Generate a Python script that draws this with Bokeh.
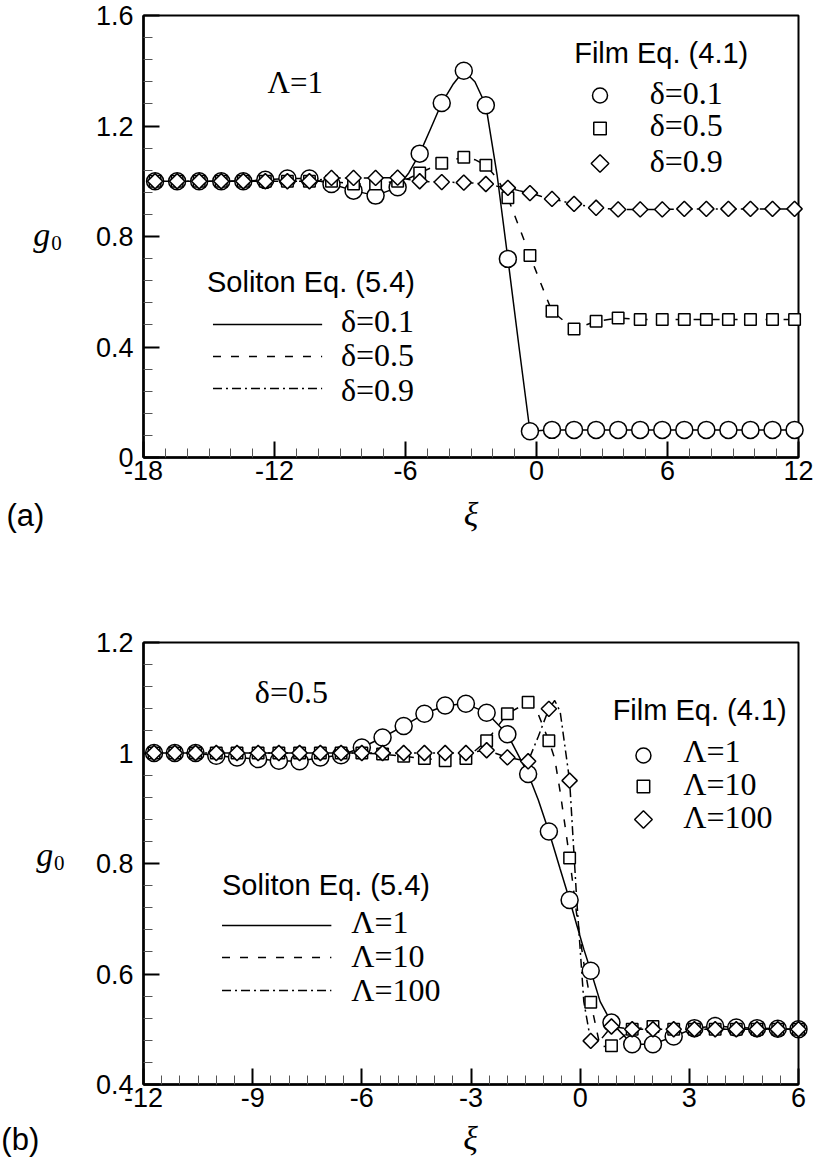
import numpy as np
from bokeh.plotting import figure
from bokeh.models import Range1d, FixedTicker, CustomJSTickFormatter
from bokeh.core.properties import value
from bokeh.layouts import column
from bokeh.embed import file_html
from bokeh.resources import INLINE

# ---------------- panel (a): Lambda = 1 ----------------
XI_A = [-17.47, -16.46, -15.45, -14.44, -13.43, -12.42, -11.41, -10.40, -9.39, -8.38,
        -7.37, -6.36, -5.35, -4.34, -3.33, -2.32, -1.31, -0.30, 0.71, 1.72,
        2.73, 3.74, 4.75, 5.76, 6.77, 7.78, 8.79, 9.80, 10.81, 11.82]
FILM_A_D01 = [1.0, 1.0, 1.0, 1.0, 1.0, 1.005, 1.01, 1.01, 0.99, 0.966,
              0.948, 0.978, 1.10, 1.283, 1.40, 1.275, 0.719, 0.095, 0.1, 0.1,
              0.1, 0.1, 0.1, 0.1, 0.1, 0.1, 0.1, 0.1, 0.1, 0.1]
FILM_A_D05 = [1.0, 1.0, 1.0, 1.0, 1.0, 1.0, 1.0, 1.0, 1.0, 0.99,
              0.99, 1.0, 1.03, 1.065, 1.087, 1.058, 0.94, 0.731, 0.529, 0.465,
              0.493, 0.505, 0.5, 0.5, 0.5, 0.5, 0.5, 0.5, 0.5, 0.5]
FILM_A_D09 = [1.0, 1.0, 1.0, 1.0, 1.0, 1.0, 1.0, 1.0, 1.012, 1.012,
              1.012, 1.013, 1.0, 0.997, 0.995, 0.99, 0.976, 0.957, 0.936, 0.918,
              0.904, 0.898, 0.898, 0.898, 0.9, 0.9, 0.9, 0.9, 0.9, 0.9]

SOL_A_X = [-17.47, -16.46, -15.45, -14.44, -13.43, -12.42, -11.41, -10.40, -9.39, -8.38,
           -7.37, -6.36, -5.85, -5.35, -4.85, -4.34, -3.83, -3.33, -2.82, -2.32,
           -1.80, -1.31, -0.80, -0.30, 0.20, 0.71, 1.72, 2.73, 3.74, 4.75,
           5.76, 6.77, 7.78, 8.79, 9.80, 10.81, 11.82]
SOL_A_D01 = [1.0, 1.0, 1.0, 1.0, 1.0, 1.005, 1.01, 1.01, 0.99, 0.966,
             0.948, 0.978, 1.03, 1.10, 1.19, 1.283, 1.35, 1.40, 1.36, 1.275,
             1.02, 0.719, 0.40, 0.095, 0.098, 0.1, 0.1, 0.1, 0.1, 0.1,
             0.1, 0.1, 0.1, 0.1, 0.1, 0.1, 0.1]
SOL_A_D05 = [1.0, 1.0, 1.0, 1.0, 1.0, 1.0, 1.0, 1.0, 1.0, 0.99,
             0.99, 1.0, 1.01, 1.03, 1.048, 1.065, 1.078, 1.087, 1.078, 1.058,
             1.01, 0.94, 0.835, 0.731, 0.63, 0.529, 0.465, 0.493, 0.505, 0.5,
             0.5, 0.5, 0.5, 0.5, 0.5, 0.5, 0.5]
SOL_A_D09 = [1.0, 1.0, 1.0, 1.0, 1.0, 1.0, 1.0, 1.0, 1.012, 1.012,
             1.012, 1.013, 1.006, 1.0, 0.998, 0.997, 0.996, 0.995, 0.993, 0.99,
             0.982, 0.976, 0.966, 0.957, 0.946, 0.936, 0.918, 0.904, 0.898, 0.898,
             0.898, 0.9, 0.9, 0.9, 0.9, 0.9, 0.9]
LABELS_A = ["\u03b4=0.1", "\u03b4=0.5", "\u03b4=0.9"]
X_TICKS_A = [-18, -12, -6, 0, 6, 12]
Y_TICKS_A = [0, 0.4, 0.8, 1.2, 1.6]

# ---------------- panel (b): delta = 0.5 ----------------
XI_B = [-11.71, -11.14, -10.57, -10.00, -9.43, -8.85, -8.28, -7.71, -7.14, -6.57,
        -6.00, -5.43, -4.85, -4.28, -3.71, -3.14, -2.57, -2.00, -1.43, -0.86,
        -0.29, 0.29, 0.86, 1.43, 2.00, 2.57, 3.14, 3.71, 4.29, 4.86,
        5.43, 6.00]
FILM_B_L1 = [1.0, 1.0, 1.0, 0.995, 0.992, 0.989, 0.986, 0.985, 0.992, 0.996,
             1.01, 1.028, 1.049, 1.071, 1.086, 1.089, 1.073, 1.034, 0.962, 0.858,
             0.734, 0.606, 0.512, 0.473, 0.473, 0.487, 0.502, 0.506, 0.503, 0.502,
             0.501, 0.5]
FILM_B_L10 = [1.0, 1.0, 1.0, 1.0, 1.0, 1.0, 1.0, 1.0, 1.0, 1.0,
              1.0, 0.998, 0.994, 0.99, 0.986, 0.99, 1.022, 1.071, 1.092, 1.022,
              0.81, 0.549, 0.47, 0.5, 0.505, 0.5, 0.5, 0.5, 0.5, 0.5,
              0.5, 0.5]
FILM_B_L100 = [1.0, 1.0, 1.0, 1.0, 1.0, 1.0, 1.0, 1.0, 1.0, 1.0,
               1.0, 1.0, 1.0, 1.0, 1.0, 1.0, 1.005, 0.992, 0.985, 1.08,
               0.95, 0.479, 0.505, 0.5, 0.5, 0.5, 0.5, 0.5, 0.5, 0.5,
               0.5, 0.5]

SOL_B_X = [-11.71, -11.14, -10.57, -10.00, -9.43, -8.85, -8.28, -7.71, -7.14, -6.57,
           -6.00, -5.43, -4.85, -4.28, -3.71, -3.14, -2.57, -2.00, -1.43, -1.15,
           -0.86, -0.70, -0.55, -0.29, -0.10, 0.10, 0.29, 0.55, 0.86, 1.43,
           2.00, 2.57, 3.14, 3.71, 4.29, 4.86, 5.43, 6.00]
SOL_B_L1 = [1.0, 1.0, 1.0, 0.995, 0.992, 0.989, 0.986, 0.985, 0.992, 0.996,
            1.01, 1.028, 1.049, 1.071, 1.086, 1.089, 1.073, 1.034, 0.962, 0.915,
            0.858, 0.823, 0.79, 0.734, 0.69, 0.645, 0.606, 0.55, 0.512, 0.473,
            0.473, 0.487, 0.502, 0.506, 0.503, 0.502, 0.501, 0.5]
SOL_B_L10 = [1.0, 1.0, 1.0, 1.0, 1.0, 1.0, 1.0, 1.0, 1.0, 1.0,
             1.0, 0.998, 0.994, 0.99, 0.986, 0.99, 1.022, 1.071, 1.092, 1.07,
             1.022, 0.99, 0.93, 0.81, 0.71, 0.62, 0.549, 0.468, 0.47, 0.5,
             0.505, 0.5, 0.5, 0.5, 0.5, 0.5, 0.5, 0.5]
SOL_B_L100 = [1.0, 1.0, 1.0, 1.0, 1.0, 1.0, 1.0, 1.0, 1.0, 1.0,
              1.0, 1.0, 1.0, 1.0, 1.0, 1.0, 1.005, 0.992, 0.985, 1.03,
              1.08, 1.095, 1.075, 0.95, 0.74, 0.55, 0.479, 0.48, 0.505, 0.5,
              0.5, 0.5, 0.5, 0.5, 0.5, 0.5, 0.5, 0.5]
LABELS_B = ["\u039b=1", "\u039b=10", "\u039b=100"]
X_TICKS_B = [-12, -9, -6, -3, 0, 3, 6]
Y_TICKS_B = [0.4, 0.6, 0.8, 1.0, 1.2]

SANS = "Liberation Sans"
SERIF = "Liberation Serif"
DASHES = ["solid", "8 10", "9 4 2 4"]
MARKERS = [dict(marker="circle", angle=0.0), dict(marker="square", angle=0.0),
           dict(marker="square", angle=np.pi / 4)]
DATA_SIZES = [17, 11.5, 10.8]
KEY_SIZES = [15, 12.5, 12.5]
BASELINE_LIFT = 0.36   # text box sits low by about this fraction of the font size


def minor_positions(ticks, n):
    out = []
    for a, b in zip(ticks[:-1], ticks[1:]):
        step = (b - a) / n
        out += [a + k * step for k in range(1, n)]
    return out


def panel(height, left, right, top, bottom, xr, yr, xticks, yticks):
    p = figure(width=819, height=height, x_range=Range1d(*xr), y_range=Range1d(*yr),
               output_backend="svg", toolbar_location=None, tools="",
               min_border_left=left, min_border_right=right,
               min_border_top=top, min_border_bottom=bottom)
    p.grid.visible = False
    p.background_fill_color = "white"
    p.border_fill_color = "white"
    p.outline_line_color = "black"
    p.outline_line_width = 2
    p.outline_line_alpha = 1
    p.xaxis.ticker = FixedTicker(ticks=xticks, minor_ticks=minor_positions(xticks, 6))
    p.yaxis.ticker = FixedTicker(ticks=yticks, minor_ticks=minor_positions(yticks, 5))
    fmt = "return String(Math.round(tick*10)/10);"
    p.xaxis.formatter = CustomJSTickFormatter(code=fmt)
    p.yaxis.formatter = CustomJSTickFormatter(code=fmt)
    for ax in (p.xaxis[0], p.yaxis[0]):
        ax.axis_line_width = 2.5
        ax.axis_line_color = "black"
        ax.major_tick_in = 16
        ax.major_tick_out = 0
        ax.minor_tick_in = 9
        ax.minor_tick_out = 0
        ax.major_tick_line_width = 2
        ax.major_tick_line_color = "black"
        ax.minor_tick_line_width = 1
        ax.minor_tick_line_color = "#555555"
        ax.major_label_text_font = SANS
        ax.major_label_text_font_size = "27px"
        ax.major_label_text_color = "black"
    p.xaxis.major_label_standoff = 3
    p.yaxis.major_label_standoff = 10
    fw = 819 - left - right
    fh = height - top - bottom
    p.extra_x_ranges = {"fx": Range1d(0, fw)}
    p.extra_y_ranges = {"fy": Range1d(0, fh)}
    return p


def put_text(p, org, X, Y, s, font, size, style="normal", align="left"):
    # X, Y: page position of the text's left end (or centre) on its baseline
    L, B = org
    p.text(x=[X - L], y=[B - Y + BASELINE_LIFT * size], text=[s],
           x_range_name="fx", y_range_name="fy",
           text_font=value(font), text_font_size=value(f"{size}px"),
           text_font_style=value(style), text_align=value(align),
           text_baseline=value("alphabetic"), text_color="black", level="overlay")


def draw_series(p, xs_line, lines, xs_mark, marks):
    for ys, dash in zip(lines, DASHES):
        p.line(xs_line, ys, line_color="black", line_width=1.5, line_dash=dash)
    for ys, mk, sz in zip(marks, MARKERS, DATA_SIZES):
        p.scatter(xs_mark, ys, size=sz, fill_color="white", line_color="black",
                  line_width=1.5, level="overlay", **mk)


def legends(p, org, film_title, film_xy, film_rows, film_label_x, film_baselines,
            sol_title, sol_xy, sol_x0, sol_x1, sol_rows, sol_label_x, sol_baselines, labels):
    L, B = org
    put_text(p, org, film_xy[0], film_xy[1], film_title, SANS, 29)
    for Y, mk, sz in zip(film_rows, MARKERS, KEY_SIZES):
        p.scatter([film_xy[2] - L], [B - Y], x_range_name="fx", y_range_name="fy",
                  size=sz, fill_color="white", line_color="black", line_width=1.5, **mk)
    for Y, s in zip(film_baselines, labels):
        put_text(p, org, film_label_x, Y, s, SERIF, 32)
    put_text(p, org, sol_xy[0], sol_xy[1], sol_title, SANS, 29)
    for Y, dash in zip(sol_rows, DASHES):
        p.line([sol_x0 - L, sol_x1 - L], [B - Y, B - Y], x_range_name="fx", y_range_name="fy",
               line_color="black", line_width=1.5, line_dash=dash)
    for Y, s in zip(sol_baselines, labels):
        put_text(p, org, sol_label_x, Y, s, SERIF, 32)


# ---- panel (a) ----
pa = panel(580, 138, 21, 15, 123, (-18, 12), (0, 1.6), X_TICKS_A, Y_TICKS_A)
org_a = (138, 457)
draw_series(pa, SOL_A_X, [SOL_A_D01, SOL_A_D05, SOL_A_D09], XI_A,
            [FILM_A_D01, FILM_A_D05, FILM_A_D09])
legends(pa, org_a, "Film Eq. (4.1)", (572, 63, 598), [95, 128, 163], 648, [104, 136, 172],
        "Soliton Eq. (5.4)", (202, 292), 208, 318, [324, 356, 388], 337, [332, 366, 401], LABELS_A)
put_text(pa, org_a, 263, 93, "\u039b=1", SERIF, 31)
put_text(pa, org_a, 468, 526, "\u03be", SERIF, 34, style="italic", align="center")
put_text(pa, org_a, 0, 526, "(a)", SANS, 31)
put_text(pa, org_a, 27, 246, "g", SERIF, 34, style="italic")
put_text(pa, org_a, 45, 250, "0", SERIF, 21)

# ---- panel (b) ----
off = 580
pb = panel(584, 143, 17, 62, 80, (-12, 6), (0.4, 1.2), X_TICKS_B, Y_TICKS_B)
org_b = (143, 1084 - off)
draw_series(pb, SOL_B_X, [SOL_B_L1, SOL_B_L10, SOL_B_L100], XI_B,
            [FILM_B_L1, FILM_B_L10, FILM_B_L100])
legends(pb, org_b, "Film Eq. (4.1)", (615, 720 - off, 646), [755 - off, 786 - off, 819 - off],
        686, [762 - off, 795 - off, 828 - off],
        "Soliton Eq. (5.4)", (222, 895 - off), 222, 332, [925 - off, 957 - off, 990 - off],
        352, [933 - off, 967 - off, 1001 - off], LABELS_B)
put_text(pb, org_b, 255, 703 - off, "\u03b4=0.5", SERIF, 32)
put_text(pb, org_b, 472, 1150 - off, "\u03be", SERIF, 34, style="italic", align="center")
put_text(pb, org_b, 0, 1150 - off, "(b)", SANS, 31)
put_text(pb, org_b, 35, 866 - off, "g", SERIF, 34, style="italic")
put_text(pb, org_b, 53, 870 - off, "0", SERIF, 21)

layout = column(pa, pb)
open("out.html", "w").write(file_html(layout, INLINE))
